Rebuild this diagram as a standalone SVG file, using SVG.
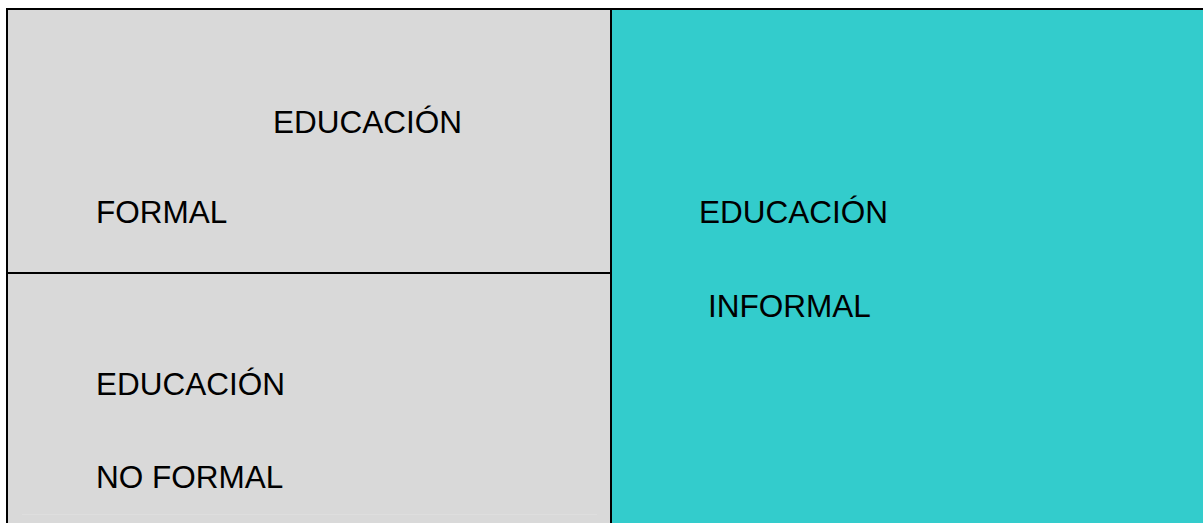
<svg xmlns="http://www.w3.org/2000/svg" width="1203" height="523" viewBox="0 0 1203 523">
<style>
.t{font-family:"Liberation Sans",Arial,sans-serif;font-size:31.5px;fill:#000}
.ln{stroke:#000;stroke-width:2;fill:none}
</style>
<rect x="0" y="0" width="1203" height="523" fill="#fff"/>
<g id="formal">
<rect x="7" y="9" width="604" height="264" fill="#d9d9d9"/>
<text class="t" x="273" y="132.5">EDUCACIÓN</text>
<text class="t" x="96" y="223">FORMAL</text>
</g>
<g id="no-formal">
<rect x="7" y="273" width="604" height="250" fill="#d9d9d9"/>
<line x1="22" y1="514.5" x2="597" y2="514.5" stroke="#dedede" stroke-width="1"/>
<text class="t" x="96" y="395">EDUCACIÓN</text>
<text class="t" x="96" y="487.5">NO FORMAL</text>
</g>
<g id="informal">
<rect x="611" y="9" width="592" height="514" fill="#33cccc"/>
<text class="t" x="699" y="223">EDUCACIÓN</text>
<text class="t" x="708" y="316.5">INFORMAL</text>
</g>
<g id="connectors">
<line class="ln" x1="6" y1="9" x2="1203" y2="9"/>
<line class="ln" x1="7" y1="8" x2="7" y2="523"/>
<line class="ln" x1="611" y1="8" x2="611" y2="523"/>
<line class="ln" x1="7" y1="273" x2="611" y2="273"/>
</g>
</svg>
